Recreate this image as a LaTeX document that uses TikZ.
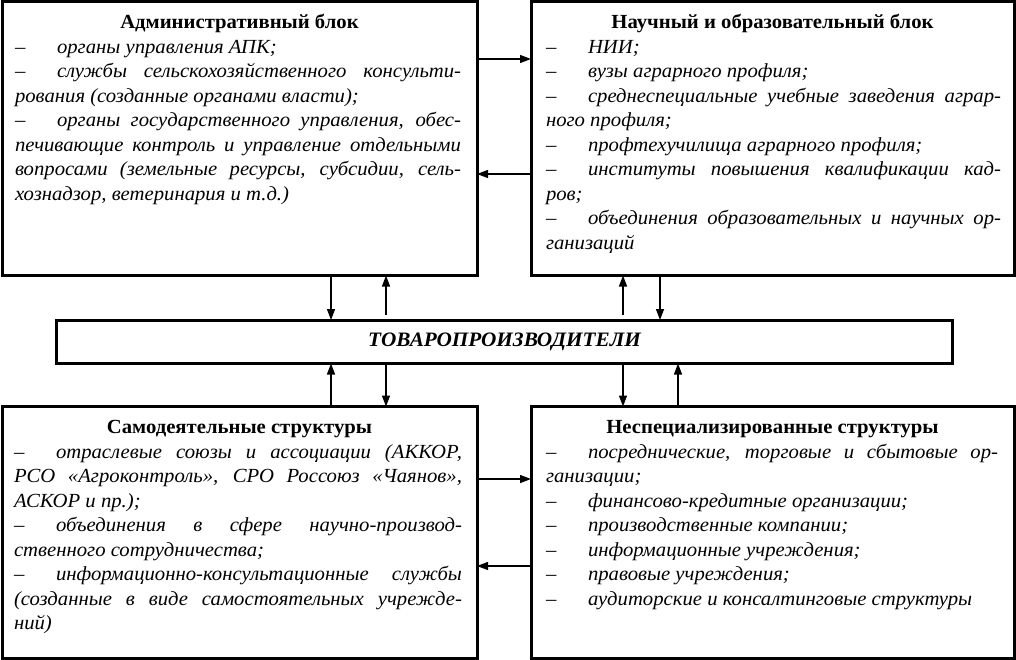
\documentclass[tikz,border=0pt]{standalone}
\usepackage{fontspec}
\setmainfont{Liberation Serif}[FakeStretch=1.035]
\usetikzlibrary{arrows.meta}

\newcommand\itm[1]{\par\noindent\makebox[42pt][l]{\upshape –}#1\par}
% #1 width, #2 height, #3 left skip, #4 right skip, #5 title, #6 body
\newcommand\boxbody[6]{\parbox[c][#2][t]{#1}{%
  \fontsize{20pt}{24.5pt}\selectfont
  \centerline{\rule{0pt}{27pt}\textbf{#5}}%
  \leftskip=#3\relax \rightskip=#4\relax
  \parfillskip=0pt plus 1fil
  \hyphenpenalty=10000 \exhyphenpenalty=10000
  \tolerance=10000 \emergencystretch=20pt
  \itshape #6}}

\begin{document}
\begin{tikzpicture}[x=1pt,y=-1pt,
  blockbox/.style={draw, line width=3pt, inner sep=0pt, outer sep=0pt},
  arr/.style={line width=1.3pt, -{Triangle[length=11pt,width=8pt]}}]
\useasboundingbox (0,0) rectangle (1016,660);

\node[blockbox] (TL) at (239.5,138.75) {\boxbody{475pt}{273.5pt}{13pt}{16pt}{Административный блок}{%
\itm{органы управления АПК;}
\itm{службы сельскохозяйственного консульти-\linebreak рования (созданные органами власти);}
\itm{органы государственного управления, обес-\linebreak печивающие контроль и управление отдельными\linebreak вопросами (земельные ресурсы, субсидии, сель-\linebreak хознадзор, ветеринария и т.д.)}}};

\node[blockbox] (TR) at (772.5,138.75) {\boxbody{483pt}{273.5pt}{15pt}{13pt}{Научный и образовательный блок}{%
\itm{НИИ;}
\itm{вузы аграрного профиля;}
\itm{среднеспециальные учебные заведения аграр-\linebreak ного профиля;}
\itm{профтехучилища аграрного профиля;}
\itm{институты повышения квалификации кад-\linebreak ров;}
\itm{объединения образовательных и научных ор-\linebreak ганизаций}}};

\node[blockbox, minimum width=896pt, minimum height=43.5pt] (MID) at (504.5,341.75)
  {\fontsize{20.5pt}{24pt}\selectfont\raisebox{-2pt}{\bfseries\itshape ТОВАРОПРОИЗВОДИТЕЛИ}};

\node[blockbox] (BL) at (239.5,532.25) {\boxbody{475pt}{251.5pt}{12pt}{15pt}{Самодеятельные структуры}{%
\itm{отраслевые союзы и ассоциации (АККОР,\linebreak РСО «Агроконтроль», СРО Россоюз «Чаянов»,\linebreak АСКОР и пр.);}
\itm{объединения в сфере научно-производ-\linebreak ственного сотрудничества;}
\itm{информационно-консультационные службы\linebreak (созданные в виде самостоятельных учрежде-\linebreak ний)}}};

\node[blockbox] (BR) at (772.5,532.25) {\boxbody{483pt}{251.5pt}{15pt}{16pt}{Неспециализированные структуры}{%
\itm{посреднические, торговые и сбытовые ор-\linebreak ганизации;}
\itm{финансово-кредитные организации;}
\itm{производственные компании;}
\itm{информационные учреждения;}
\itm{правовые учреждения;}
\itm{аудиторские и консалтинговые структуры}}};

\coordinate (xa) at (331,0);
\coordinate (xb) at (386,0);
\coordinate (xc) at (623,0);
\coordinate (xd) at (660,0);
\coordinate (xe) at (678,0);
\coordinate (ya) at (0,59);
\coordinate (yb) at (0,174);
\coordinate (yc) at (0,479);
\coordinate (yd) at (0,566);

\draw[arr] (TL.south -| xa) -- (MID.north -| xa);
\draw[arr, shorten <=5pt] (MID.north -| xb) -- (TL.south -| xb);
\draw[arr, shorten <=5pt] (MID.north -| xc) -- (TR.south -| xc);
\draw[arr] (TR.south -| xd) -- (MID.north -| xd);

\draw[arr] (BL.north -| xa) -- (MID.south -| xa);
\draw[arr] (MID.south -| xb) -- (BL.north -| xb);
\draw[arr] (MID.south -| xc) -- (BR.north -| xc);
\draw[arr] (BR.north -| xe) -- (MID.south -| xe);

\draw[arr] (TL.east |- ya) -- (TR.west |- ya);
\draw[arr] (TR.west |- yb) -- (TL.east |- yb);
\draw[arr] (BL.east |- yc) -- (BR.west |- yc);
\draw[arr] (BR.west |- yd) -- (BL.east |- yd);
\end{tikzpicture}
\end{document}
